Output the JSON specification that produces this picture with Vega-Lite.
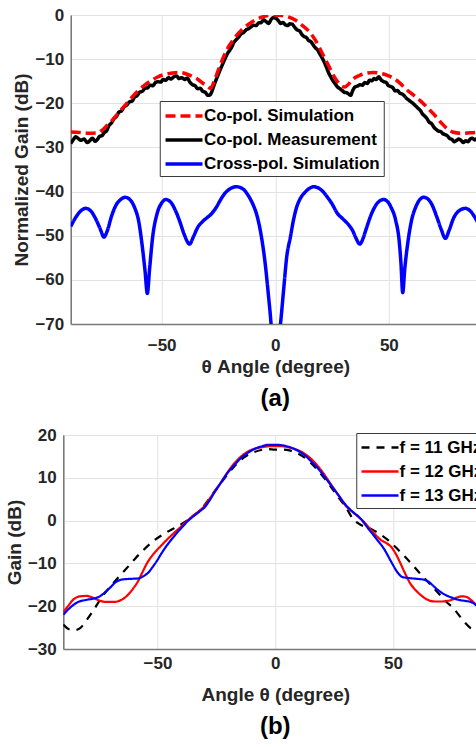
{
  "$schema": "https://vega.github.io/schema/vega-lite/v6.json",
  "background": "white",
  "padding": {"left": 4, "top": 5, "right": 0, "bottom": 0},
  "spacing": 13,
  "center": true,
  "resolve": {
    "scale": {"color": "independent", "strokeDash": "independent"},
    "legend": {"color": "independent", "strokeDash": "independent"}
  },
  "config": {
    "font": "Liberation Sans",
    "view": {"stroke": "#9a9a9a", "strokeWidth": 1},
    "axis": {
      "labelFont": "Liberation Sans", "labelFontWeight": "bold", "labelFontSize": 17, "labelColor": "#262626",
      "titleFont": "Liberation Sans", "titleFontWeight": "bold", "titleFontSize": 19, "titleColor": "#262626",
      "domainColor": "#7a7a7a", "domainWidth": 1.5, "gridColor": "#e2e2e2", "gridWidth": 1,
      "ticks": false, "labelPadding": 7, "titlePadding": 3
    },
    "legend": {
      "orient": "none", "title": null,
      "labelFont": "Liberation Sans", "labelFontWeight": "bold", "labelFontSize": 17, "labelColor": "#000000",
      "labelLimit": 400,
      "fillColor": "white", "strokeColor": "#3a3a3a", "padding": 4,
      "symbolType": "M-2,0H2", "symbolSize": 342, "symbolOffset": 9.25, "labelOffset": 9, "rowPadding": 5
    },
    "title": {"font": "Liberation Sans", "fontWeight": "bold", "fontSize": 24, "color": "#000000", "frame": "group"}
  },
  "datasets": {
    "a": [
      {"theta": -90, "gain": -29.1, "series": "Co-pol. Measurement"},
      {"theta": -88.8, "gain": -28.2, "series": "Co-pol. Measurement"},
      {"theta": -87.8, "gain": -27.6, "series": "Co-pol. Measurement"},
      {"theta": -86.6, "gain": -28.0, "series": "Co-pol. Measurement"},
      {"theta": -85.6, "gain": -28.4, "series": "Co-pol. Measurement"},
      {"theta": -84.2, "gain": -28.1, "series": "Co-pol. Measurement"},
      {"theta": -82.7, "gain": -28.9, "series": "Co-pol. Measurement"},
      {"theta": -81.5, "gain": -28.4, "series": "Co-pol. Measurement"},
      {"theta": -80.5, "gain": -27.9, "series": "Co-pol. Measurement"},
      {"theta": -79.3, "gain": -28.6, "series": "Co-pol. Measurement"},
      {"theta": -78.3, "gain": -28.2, "series": "Co-pol. Measurement"},
      {"theta": -77.3, "gain": -27.5, "series": "Co-pol. Measurement"},
      {"theta": -76.2, "gain": -27.3, "series": "Co-pol. Measurement"},
      {"theta": -75.2, "gain": -26.6, "series": "Co-pol. Measurement"},
      {"theta": -74.2, "gain": -26.2, "series": "Co-pol. Measurement"},
      {"theta": -73.1, "gain": -25.0, "series": "Co-pol. Measurement"},
      {"theta": -72.0, "gain": -24.4, "series": "Co-pol. Measurement"},
      {"theta": -71.0, "gain": -23.5, "series": "Co-pol. Measurement"},
      {"theta": -69.9, "gain": -23.0, "series": "Co-pol. Measurement"},
      {"theta": -68.8, "gain": -22.0, "series": "Co-pol. Measurement"},
      {"theta": -67.6, "gain": -21.7, "series": "Co-pol. Measurement"},
      {"theta": -66.5, "gain": -20.8, "series": "Co-pol. Measurement"},
      {"theta": -65.3, "gain": -20.4, "series": "Co-pol. Measurement"},
      {"theta": -64.2, "gain": -19.7, "series": "Co-pol. Measurement"},
      {"theta": -63.0, "gain": -19.5, "series": "Co-pol. Measurement"},
      {"theta": -61.9, "gain": -18.6, "series": "Co-pol. Measurement"},
      {"theta": -60.8, "gain": -18.3, "series": "Co-pol. Measurement"},
      {"theta": -59.7, "gain": -17.5, "series": "Co-pol. Measurement"},
      {"theta": -58.5, "gain": -17.3, "series": "Co-pol. Measurement"},
      {"theta": -57.3, "gain": -16.6, "series": "Co-pol. Measurement"},
      {"theta": -56.2, "gain": -16.5, "series": "Co-pol. Measurement"},
      {"theta": -55.0, "gain": -15.9, "series": "Co-pol. Measurement"},
      {"theta": -53.9, "gain": -16.0, "series": "Co-pol. Measurement"},
      {"theta": -52.7, "gain": -15.3, "series": "Co-pol. Measurement"},
      {"theta": -51.6, "gain": -15.1, "series": "Co-pol. Measurement"},
      {"theta": -50.4, "gain": -15.2, "series": "Co-pol. Measurement"},
      {"theta": -49.3, "gain": -14.6, "series": "Co-pol. Measurement"},
      {"theta": -48.2, "gain": -14.8, "series": "Co-pol. Measurement"},
      {"theta": -47.0, "gain": -14.2, "series": "Co-pol. Measurement"},
      {"theta": -45.9, "gain": -14.5, "series": "Co-pol. Measurement"},
      {"theta": -44.7, "gain": -14.0, "series": "Co-pol. Measurement"},
      {"theta": -43.5, "gain": -13.8, "series": "Co-pol. Measurement"},
      {"theta": -42.3, "gain": -14.4, "series": "Co-pol. Measurement"},
      {"theta": -41.1, "gain": -14.2, "series": "Co-pol. Measurement"},
      {"theta": -39.9, "gain": -14.6, "series": "Co-pol. Measurement"},
      {"theta": -38.7, "gain": -14.3, "series": "Co-pol. Measurement"},
      {"theta": -37.6, "gain": -15.2, "series": "Co-pol. Measurement"},
      {"theta": -36.4, "gain": -15.8, "series": "Co-pol. Measurement"},
      {"theta": -35.3, "gain": -16.0, "series": "Co-pol. Measurement"},
      {"theta": -34.2, "gain": -16.7, "series": "Co-pol. Measurement"},
      {"theta": -33.0, "gain": -16.6, "series": "Co-pol. Measurement"},
      {"theta": -31.9, "gain": -17.3, "series": "Co-pol. Measurement"},
      {"theta": -30.8, "gain": -17.5, "series": "Co-pol. Measurement"},
      {"theta": -29.6, "gain": -18.2, "series": "Co-pol. Measurement"},
      {"theta": -28.7, "gain": -18.1, "series": "Co-pol. Measurement"},
      {"theta": -27.8, "gain": -17.2, "series": "Co-pol. Measurement"},
      {"theta": -27.0, "gain": -16.0, "series": "Co-pol. Measurement"},
      {"theta": -26.2, "gain": -14.9, "series": "Co-pol. Measurement"},
      {"theta": -25.4, "gain": -13.9, "series": "Co-pol. Measurement"},
      {"theta": -24.4, "gain": -12.6, "series": "Co-pol. Measurement"},
      {"theta": -23.3, "gain": -11.3, "series": "Co-pol. Measurement"},
      {"theta": -22.2, "gain": -10.0, "series": "Co-pol. Measurement"},
      {"theta": -21.2, "gain": -8.9, "series": "Co-pol. Measurement"},
      {"theta": -20.2, "gain": -8.1, "series": "Co-pol. Measurement"},
      {"theta": -19.2, "gain": -7.3, "series": "Co-pol. Measurement"},
      {"theta": -18.2, "gain": -6.2, "series": "Co-pol. Measurement"},
      {"theta": -17.2, "gain": -5.6, "series": "Co-pol. Measurement"},
      {"theta": -16.1, "gain": -5.0, "series": "Co-pol. Measurement"},
      {"theta": -15.1, "gain": -4.3, "series": "Co-pol. Measurement"},
      {"theta": -14.0, "gain": -4.0, "series": "Co-pol. Measurement"},
      {"theta": -12.9, "gain": -3.4, "series": "Co-pol. Measurement"},
      {"theta": -11.8, "gain": -3.1, "series": "Co-pol. Measurement"},
      {"theta": -10.7, "gain": -2.7, "series": "Co-pol. Measurement"},
      {"theta": -9.6, "gain": -2.3, "series": "Co-pol. Measurement"},
      {"theta": -8.5, "gain": -2.4, "series": "Co-pol. Measurement"},
      {"theta": -7.3, "gain": -1.8, "series": "Co-pol. Measurement"},
      {"theta": -6.2, "gain": -1.7, "series": "Co-pol. Measurement"},
      {"theta": -5.1, "gain": -1.1, "series": "Co-pol. Measurement"},
      {"theta": -4.0, "gain": -1.5, "series": "Co-pol. Measurement"},
      {"theta": -2.9, "gain": -1.9, "series": "Co-pol. Measurement"},
      {"theta": -1.8, "gain": -1.0, "series": "Co-pol. Measurement"},
      {"theta": -0.7, "gain": -0.6, "series": "Co-pol. Measurement"},
      {"theta": 0.4, "gain": -0.8, "series": "Co-pol. Measurement"},
      {"theta": 1.4, "gain": -1.3, "series": "Co-pol. Measurement"},
      {"theta": 2.4, "gain": -1.9, "series": "Co-pol. Measurement"},
      {"theta": 3.4, "gain": -1.7, "series": "Co-pol. Measurement"},
      {"theta": 4.4, "gain": -2.2, "series": "Co-pol. Measurement"},
      {"theta": 5.4, "gain": -2.4, "series": "Co-pol. Measurement"},
      {"theta": 6.4, "gain": -2.0, "series": "Co-pol. Measurement"},
      {"theta": 7.5, "gain": -2.1, "series": "Co-pol. Measurement"},
      {"theta": 8.6, "gain": -2.8, "series": "Co-pol. Measurement"},
      {"theta": 9.7, "gain": -3.4, "series": "Co-pol. Measurement"},
      {"theta": 10.7, "gain": -3.6, "series": "Co-pol. Measurement"},
      {"theta": 11.7, "gain": -4.4, "series": "Co-pol. Measurement"},
      {"theta": 12.7, "gain": -4.9, "series": "Co-pol. Measurement"},
      {"theta": 13.7, "gain": -5.1, "series": "Co-pol. Measurement"},
      {"theta": 14.7, "gain": -5.8, "series": "Co-pol. Measurement"},
      {"theta": 15.6, "gain": -6.0, "series": "Co-pol. Measurement"},
      {"theta": 16.6, "gain": -6.7, "series": "Co-pol. Measurement"},
      {"theta": 17.6, "gain": -7.4, "series": "Co-pol. Measurement"},
      {"theta": 18.6, "gain": -7.9, "series": "Co-pol. Measurement"},
      {"theta": 19.6, "gain": -8.8, "series": "Co-pol. Measurement"},
      {"theta": 20.5, "gain": -9.6, "series": "Co-pol. Measurement"},
      {"theta": 21.5, "gain": -10.6, "series": "Co-pol. Measurement"},
      {"theta": 22.5, "gain": -11.8, "series": "Co-pol. Measurement"},
      {"theta": 23.4, "gain": -13.0, "series": "Co-pol. Measurement"},
      {"theta": 24.4, "gain": -14.0, "series": "Co-pol. Measurement"},
      {"theta": 25.4, "gain": -14.9, "series": "Co-pol. Measurement"},
      {"theta": 26.4, "gain": -15.6, "series": "Co-pol. Measurement"},
      {"theta": 27.4, "gain": -16.3, "series": "Co-pol. Measurement"},
      {"theta": 28.4, "gain": -16.7, "series": "Co-pol. Measurement"},
      {"theta": 29.4, "gain": -17.1, "series": "Co-pol. Measurement"},
      {"theta": 30.4, "gain": -17.5, "series": "Co-pol. Measurement"},
      {"theta": 31.4, "gain": -17.6, "series": "Co-pol. Measurement"},
      {"theta": 32.3, "gain": -17.9, "series": "Co-pol. Measurement"},
      {"theta": 33.2, "gain": -18.2, "series": "Co-pol. Measurement"},
      {"theta": 34.1, "gain": -17.1, "series": "Co-pol. Measurement"},
      {"theta": 35.1, "gain": -16.3, "series": "Co-pol. Measurement"},
      {"theta": 36.2, "gain": -16.1, "series": "Co-pol. Measurement"},
      {"theta": 37.3, "gain": -15.8, "series": "Co-pol. Measurement"},
      {"theta": 38.4, "gain": -15.9, "series": "Co-pol. Measurement"},
      {"theta": 39.4, "gain": -15.3, "series": "Co-pol. Measurement"},
      {"theta": 40.5, "gain": -15.5, "series": "Co-pol. Measurement"},
      {"theta": 41.5, "gain": -14.8, "series": "Co-pol. Measurement"},
      {"theta": 42.5, "gain": -14.9, "series": "Co-pol. Measurement"},
      {"theta": 43.5, "gain": -14.4, "series": "Co-pol. Measurement"},
      {"theta": 44.5, "gain": -14.6, "series": "Co-pol. Measurement"},
      {"theta": 45.5, "gain": -14.0, "series": "Co-pol. Measurement"},
      {"theta": 46.6, "gain": -14.7, "series": "Co-pol. Measurement"},
      {"theta": 47.7, "gain": -15.1, "series": "Co-pol. Measurement"},
      {"theta": 48.8, "gain": -15.3, "series": "Co-pol. Measurement"},
      {"theta": 49.8, "gain": -16.0, "series": "Co-pol. Measurement"},
      {"theta": 50.8, "gain": -16.2, "series": "Co-pol. Measurement"},
      {"theta": 51.8, "gain": -16.5, "series": "Co-pol. Measurement"},
      {"theta": 52.8, "gain": -17.2, "series": "Co-pol. Measurement"},
      {"theta": 53.8, "gain": -17.1, "series": "Co-pol. Measurement"},
      {"theta": 54.8, "gain": -17.7, "series": "Co-pol. Measurement"},
      {"theta": 55.8, "gain": -17.9, "series": "Co-pol. Measurement"},
      {"theta": 56.8, "gain": -18.3, "series": "Co-pol. Measurement"},
      {"theta": 57.8, "gain": -18.9, "series": "Co-pol. Measurement"},
      {"theta": 58.8, "gain": -19.3, "series": "Co-pol. Measurement"},
      {"theta": 59.8, "gain": -19.7, "series": "Co-pol. Measurement"},
      {"theta": 60.8, "gain": -20.1, "series": "Co-pol. Measurement"},
      {"theta": 61.8, "gain": -20.6, "series": "Co-pol. Measurement"},
      {"theta": 62.8, "gain": -21.1, "series": "Co-pol. Measurement"},
      {"theta": 63.8, "gain": -21.6, "series": "Co-pol. Measurement"},
      {"theta": 64.8, "gain": -22.4, "series": "Co-pol. Measurement"},
      {"theta": 65.8, "gain": -22.9, "series": "Co-pol. Measurement"},
      {"theta": 66.8, "gain": -23.5, "series": "Co-pol. Measurement"},
      {"theta": 67.8, "gain": -24.3, "series": "Co-pol. Measurement"},
      {"theta": 68.8, "gain": -24.6, "series": "Co-pol. Measurement"},
      {"theta": 69.8, "gain": -25.4, "series": "Co-pol. Measurement"},
      {"theta": 70.8, "gain": -25.9, "series": "Co-pol. Measurement"},
      {"theta": 71.8, "gain": -26.3, "series": "Co-pol. Measurement"},
      {"theta": 72.8, "gain": -26.4, "series": "Co-pol. Measurement"},
      {"theta": 73.8, "gain": -26.9, "series": "Co-pol. Measurement"},
      {"theta": 74.8, "gain": -27.1, "series": "Co-pol. Measurement"},
      {"theta": 75.8, "gain": -27.4, "series": "Co-pol. Measurement"},
      {"theta": 76.8, "gain": -28.0, "series": "Co-pol. Measurement"},
      {"theta": 77.8, "gain": -28.2, "series": "Co-pol. Measurement"},
      {"theta": 78.8, "gain": -28.7, "series": "Co-pol. Measurement"},
      {"theta": 79.8, "gain": -28.4, "series": "Co-pol. Measurement"},
      {"theta": 80.8, "gain": -28.1, "series": "Co-pol. Measurement"},
      {"theta": 81.8, "gain": -28.4, "series": "Co-pol. Measurement"},
      {"theta": 82.8, "gain": -28.9, "series": "Co-pol. Measurement"},
      {"theta": 83.8, "gain": -28.5, "series": "Co-pol. Measurement"},
      {"theta": 84.8, "gain": -28.7, "series": "Co-pol. Measurement"},
      {"theta": 85.8, "gain": -28.1, "series": "Co-pol. Measurement"},
      {"theta": 86.8, "gain": -27.9, "series": "Co-pol. Measurement"},
      {"theta": 87.8, "gain": -28.3, "series": "Co-pol. Measurement"},
      {"theta": 88.8, "gain": -28.0, "series": "Co-pol. Measurement"},
      {"theta": 90, "gain": -28.6, "series": "Co-pol. Measurement"},

      {"theta": -90, "gain": -26.5, "series": "Co-pol. Simulation"},
      {"theta": -86, "gain": -26.6, "series": "Co-pol. Simulation"},
      {"theta": -82, "gain": -26.8, "series": "Co-pol. Simulation"},
      {"theta": -78, "gain": -26.7, "series": "Co-pol. Simulation"},
      {"theta": -76, "gain": -26.0, "series": "Co-pol. Simulation"},
      {"theta": -74, "gain": -25.0, "series": "Co-pol. Simulation"},
      {"theta": -72, "gain": -24.0, "series": "Co-pol. Simulation"},
      {"theta": -70, "gain": -22.8, "series": "Co-pol. Simulation"},
      {"theta": -67, "gain": -21.0, "series": "Co-pol. Simulation"},
      {"theta": -64, "gain": -19.2, "series": "Co-pol. Simulation"},
      {"theta": -61, "gain": -17.5, "series": "Co-pol. Simulation"},
      {"theta": -58, "gain": -16.1, "series": "Co-pol. Simulation"},
      {"theta": -55, "gain": -15.0, "series": "Co-pol. Simulation"},
      {"theta": -52, "gain": -14.1, "series": "Co-pol. Simulation"},
      {"theta": -49, "gain": -13.5, "series": "Co-pol. Simulation"},
      {"theta": -46, "gain": -13.2, "series": "Co-pol. Simulation"},
      {"theta": -43, "gain": -13.0, "series": "Co-pol. Simulation"},
      {"theta": -40, "gain": -13.2, "series": "Co-pol. Simulation"},
      {"theta": -37, "gain": -13.8, "series": "Co-pol. Simulation"},
      {"theta": -34, "gain": -14.6, "series": "Co-pol. Simulation"},
      {"theta": -32, "gain": -15.4, "series": "Co-pol. Simulation"},
      {"theta": -30, "gain": -16.1, "series": "Co-pol. Simulation"},
      {"theta": -28.5, "gain": -16.6, "series": "Co-pol. Simulation"},
      {"theta": -27, "gain": -15.2, "series": "Co-pol. Simulation"},
      {"theta": -25, "gain": -12.4, "series": "Co-pol. Simulation"},
      {"theta": -23, "gain": -9.8, "series": "Co-pol. Simulation"},
      {"theta": -21, "gain": -7.6, "series": "Co-pol. Simulation"},
      {"theta": -19, "gain": -6.0, "series": "Co-pol. Simulation"},
      {"theta": -17, "gain": -4.6, "series": "Co-pol. Simulation"},
      {"theta": -15, "gain": -3.5, "series": "Co-pol. Simulation"},
      {"theta": -12, "gain": -2.2, "series": "Co-pol. Simulation"},
      {"theta": -9, "gain": -1.2, "series": "Co-pol. Simulation"},
      {"theta": -6, "gain": -0.5, "series": "Co-pol. Simulation"},
      {"theta": -3, "gain": -0.1, "series": "Co-pol. Simulation"},
      {"theta": 0, "gain": 0, "series": "Co-pol. Simulation"},
      {"theta": 3, "gain": -0.1, "series": "Co-pol. Simulation"},
      {"theta": 6, "gain": -0.5, "series": "Co-pol. Simulation"},
      {"theta": 9, "gain": -1.2, "series": "Co-pol. Simulation"},
      {"theta": 12, "gain": -2.4, "series": "Co-pol. Simulation"},
      {"theta": 15, "gain": -3.8, "series": "Co-pol. Simulation"},
      {"theta": 18, "gain": -6.0, "series": "Co-pol. Simulation"},
      {"theta": 21, "gain": -9.0, "series": "Co-pol. Simulation"},
      {"theta": 24, "gain": -12.0, "series": "Co-pol. Simulation"},
      {"theta": 26, "gain": -14.0, "series": "Co-pol. Simulation"},
      {"theta": 28, "gain": -15.5, "series": "Co-pol. Simulation"},
      {"theta": 30.5, "gain": -16.3, "series": "Co-pol. Simulation"},
      {"theta": 32, "gain": -15.8, "series": "Co-pol. Simulation"},
      {"theta": 34, "gain": -14.6, "series": "Co-pol. Simulation"},
      {"theta": 37, "gain": -13.7, "series": "Co-pol. Simulation"},
      {"theta": 40, "gain": -13.2, "series": "Co-pol. Simulation"},
      {"theta": 43, "gain": -13.0, "series": "Co-pol. Simulation"},
      {"theta": 46, "gain": -13.2, "series": "Co-pol. Simulation"},
      {"theta": 49, "gain": -13.6, "series": "Co-pol. Simulation"},
      {"theta": 52, "gain": -14.3, "series": "Co-pol. Simulation"},
      {"theta": 55, "gain": -15.5, "series": "Co-pol. Simulation"},
      {"theta": 58, "gain": -17.0, "series": "Co-pol. Simulation"},
      {"theta": 61, "gain": -18.2, "series": "Co-pol. Simulation"},
      {"theta": 64, "gain": -19.5, "series": "Co-pol. Simulation"},
      {"theta": 67, "gain": -21.0, "series": "Co-pol. Simulation"},
      {"theta": 70, "gain": -22.6, "series": "Co-pol. Simulation"},
      {"theta": 73, "gain": -24.4, "series": "Co-pol. Simulation"},
      {"theta": 76, "gain": -25.9, "series": "Co-pol. Simulation"},
      {"theta": 78, "gain": -26.5, "series": "Co-pol. Simulation"},
      {"theta": 82, "gain": -26.8, "series": "Co-pol. Simulation"},
      {"theta": 86, "gain": -26.7, "series": "Co-pol. Simulation"},
      {"theta": 90, "gain": -26.5, "series": "Co-pol. Simulation"},

      {"theta": -90, "gain": -47.9, "series": "Cross-pol. Simulation"},
      {"theta": -88, "gain": -46.0, "series": "Cross-pol. Simulation"},
      {"theta": -86, "gain": -44.6, "series": "Cross-pol. Simulation"},
      {"theta": -83.4, "gain": -43.8, "series": "Cross-pol. Simulation"},
      {"theta": -81, "gain": -44.5, "series": "Cross-pol. Simulation"},
      {"theta": -79, "gain": -46.2, "series": "Cross-pol. Simulation"},
      {"theta": -77, "gain": -48.5, "series": "Cross-pol. Simulation"},
      {"theta": -75.4, "gain": -50.3, "series": "Cross-pol. Simulation"},
      {"theta": -74, "gain": -49.0, "series": "Cross-pol. Simulation"},
      {"theta": -72, "gain": -45.5, "series": "Cross-pol. Simulation"},
      {"theta": -70, "gain": -43.0, "series": "Cross-pol. Simulation"},
      {"theta": -68, "gain": -41.8, "series": "Cross-pol. Simulation"},
      {"theta": -66, "gain": -41.3, "series": "Cross-pol. Simulation"},
      {"theta": -64, "gain": -41.8, "series": "Cross-pol. Simulation"},
      {"theta": -62, "gain": -43.5, "series": "Cross-pol. Simulation"},
      {"theta": -60, "gain": -47.0, "series": "Cross-pol. Simulation"},
      {"theta": -58.5, "gain": -52.5, "series": "Cross-pol. Simulation"},
      {"theta": -57.3, "gain": -58.0, "series": "Cross-pol. Simulation"},
      {"theta": -56.3, "gain": -63.1, "series": "Cross-pol. Simulation"},
      {"theta": -55.3, "gain": -57.5, "series": "Cross-pol. Simulation"},
      {"theta": -54, "gain": -50.5, "series": "Cross-pol. Simulation"},
      {"theta": -52, "gain": -45.0, "series": "Cross-pol. Simulation"},
      {"theta": -50, "gain": -42.6, "series": "Cross-pol. Simulation"},
      {"theta": -48.2, "gain": -41.8, "series": "Cross-pol. Simulation"},
      {"theta": -46, "gain": -42.4, "series": "Cross-pol. Simulation"},
      {"theta": -44, "gain": -44.2, "series": "Cross-pol. Simulation"},
      {"theta": -42, "gain": -46.8, "series": "Cross-pol. Simulation"},
      {"theta": -40, "gain": -49.8, "series": "Cross-pol. Simulation"},
      {"theta": -37.7, "gain": -51.9, "series": "Cross-pol. Simulation"},
      {"theta": -36, "gain": -50.2, "series": "Cross-pol. Simulation"},
      {"theta": -34, "gain": -48.0, "series": "Cross-pol. Simulation"},
      {"theta": -32, "gain": -46.8, "series": "Cross-pol. Simulation"},
      {"theta": -30, "gain": -45.9, "series": "Cross-pol. Simulation"},
      {"theta": -28, "gain": -45.0, "series": "Cross-pol. Simulation"},
      {"theta": -26, "gain": -43.6, "series": "Cross-pol. Simulation"},
      {"theta": -24, "gain": -41.8, "series": "Cross-pol. Simulation"},
      {"theta": -22, "gain": -40.3, "series": "Cross-pol. Simulation"},
      {"theta": -20, "gain": -39.4, "series": "Cross-pol. Simulation"},
      {"theta": -17.1, "gain": -38.9, "series": "Cross-pol. Simulation"},
      {"theta": -14, "gain": -39.5, "series": "Cross-pol. Simulation"},
      {"theta": -12, "gain": -40.8, "series": "Cross-pol. Simulation"},
      {"theta": -10, "gain": -42.7, "series": "Cross-pol. Simulation"},
      {"theta": -8, "gain": -45.5, "series": "Cross-pol. Simulation"},
      {"theta": -6, "gain": -50.5, "series": "Cross-pol. Simulation"},
      {"theta": -4.5, "gain": -56.0, "series": "Cross-pol. Simulation"},
      {"theta": -3, "gain": -63.5, "series": "Cross-pol. Simulation"},
      {"theta": -2, "gain": -69.0, "series": "Cross-pol. Simulation"},
      {"theta": -1.2, "gain": -75.0, "series": "Cross-pol. Simulation"},
      {"theta": 0, "gain": -90.0, "series": "Cross-pol. Simulation"},
      {"theta": 1.2, "gain": -75.0, "series": "Cross-pol. Simulation"},
      {"theta": 2.3, "gain": -70.0, "series": "Cross-pol. Simulation"},
      {"theta": 3.8, "gain": -61.6, "series": "Cross-pol. Simulation"},
      {"theta": 5, "gain": -55.0, "series": "Cross-pol. Simulation"},
      {"theta": 6.7, "gain": -50.2, "series": "Cross-pol. Simulation"},
      {"theta": 8, "gain": -46.5, "series": "Cross-pol. Simulation"},
      {"theta": 9.5, "gain": -43.4, "series": "Cross-pol. Simulation"},
      {"theta": 11, "gain": -41.6, "series": "Cross-pol. Simulation"},
      {"theta": 13, "gain": -40.2, "series": "Cross-pol. Simulation"},
      {"theta": 15, "gain": -39.3, "series": "Cross-pol. Simulation"},
      {"theta": 17, "gain": -38.9, "series": "Cross-pol. Simulation"},
      {"theta": 19, "gain": -39.2, "series": "Cross-pol. Simulation"},
      {"theta": 21, "gain": -40.0, "series": "Cross-pol. Simulation"},
      {"theta": 23, "gain": -41.3, "series": "Cross-pol. Simulation"},
      {"theta": 25, "gain": -42.8, "series": "Cross-pol. Simulation"},
      {"theta": 27.3, "gain": -44.9, "series": "Cross-pol. Simulation"},
      {"theta": 30, "gain": -46.3, "series": "Cross-pol. Simulation"},
      {"theta": 32.4, "gain": -47.6, "series": "Cross-pol. Simulation"},
      {"theta": 34, "gain": -48.8, "series": "Cross-pol. Simulation"},
      {"theta": 35.5, "gain": -50.5, "series": "Cross-pol. Simulation"},
      {"theta": 37.2, "gain": -51.9, "series": "Cross-pol. Simulation"},
      {"theta": 38.5, "gain": -50.8, "series": "Cross-pol. Simulation"},
      {"theta": 40, "gain": -48.5, "series": "Cross-pol. Simulation"},
      {"theta": 42, "gain": -45.5, "series": "Cross-pol. Simulation"},
      {"theta": 44, "gain": -43.3, "series": "Cross-pol. Simulation"},
      {"theta": 46, "gain": -42.1, "series": "Cross-pol. Simulation"},
      {"theta": 47.7, "gain": -41.8, "series": "Cross-pol. Simulation"},
      {"theta": 49.5, "gain": -42.3, "series": "Cross-pol. Simulation"},
      {"theta": 51, "gain": -43.6, "series": "Cross-pol. Simulation"},
      {"theta": 53, "gain": -46.5, "series": "Cross-pol. Simulation"},
      {"theta": 54.5, "gain": -51.0, "series": "Cross-pol. Simulation"},
      {"theta": 55.3, "gain": -56.0, "series": "Cross-pol. Simulation"},
      {"theta": 56.1, "gain": -62.9, "series": "Cross-pol. Simulation"},
      {"theta": 57, "gain": -57.5, "series": "Cross-pol. Simulation"},
      {"theta": 58.5, "gain": -51.0, "series": "Cross-pol. Simulation"},
      {"theta": 60, "gain": -46.5, "series": "Cross-pol. Simulation"},
      {"theta": 62, "gain": -43.3, "series": "Cross-pol. Simulation"},
      {"theta": 63.5, "gain": -41.9, "series": "Cross-pol. Simulation"},
      {"theta": 65.3, "gain": -41.3, "series": "Cross-pol. Simulation"},
      {"theta": 67, "gain": -41.6, "series": "Cross-pol. Simulation"},
      {"theta": 69, "gain": -43.0, "series": "Cross-pol. Simulation"},
      {"theta": 71, "gain": -45.6, "series": "Cross-pol. Simulation"},
      {"theta": 73, "gain": -48.5, "series": "Cross-pol. Simulation"},
      {"theta": 74.9, "gain": -50.6, "series": "Cross-pol. Simulation"},
      {"theta": 76.5, "gain": -48.8, "series": "Cross-pol. Simulation"},
      {"theta": 78.5, "gain": -46.0, "series": "Cross-pol. Simulation"},
      {"theta": 81, "gain": -44.3, "series": "Cross-pol. Simulation"},
      {"theta": 83.7, "gain": -43.8, "series": "Cross-pol. Simulation"},
      {"theta": 86, "gain": -44.5, "series": "Cross-pol. Simulation"},
      {"theta": 88.5, "gain": -46.4, "series": "Cross-pol. Simulation"},
      {"theta": 90, "gain": -47.9, "series": "Cross-pol. Simulation"}
    ],
    "b": [
      {"theta": -90, "gain": -24.3, "freq": "f = 11 GHz"},
      {"theta": -87, "gain": -25.5, "freq": "f = 11 GHz"},
      {"theta": -85, "gain": -25.6, "freq": "f = 11 GHz"},
      {"theta": -83, "gain": -25.2, "freq": "f = 11 GHz"},
      {"theta": -80, "gain": -23.2, "freq": "f = 11 GHz"},
      {"theta": -77, "gain": -20.8, "freq": "f = 11 GHz"},
      {"theta": -73.5, "gain": -17.8, "freq": "f = 11 GHz"},
      {"theta": -70, "gain": -15.4, "freq": "f = 11 GHz"},
      {"theta": -66.5, "gain": -13.2, "freq": "f = 11 GHz"},
      {"theta": -63, "gain": -11.1, "freq": "f = 11 GHz"},
      {"theta": -59.5, "gain": -8.9, "freq": "f = 11 GHz"},
      {"theta": -56, "gain": -6.9, "freq": "f = 11 GHz"},
      {"theta": -52, "gain": -4.9, "freq": "f = 11 GHz"},
      {"theta": -48.7, "gain": -3.6, "freq": "f = 11 GHz"},
      {"theta": -45, "gain": -2.4, "freq": "f = 11 GHz"},
      {"theta": -41.6, "gain": -1.4, "freq": "f = 11 GHz"},
      {"theta": -38, "gain": -0.2, "freq": "f = 11 GHz"},
      {"theta": -35, "gain": 1.0, "freq": "f = 11 GHz"},
      {"theta": -31.7, "gain": 2.5, "freq": "f = 11 GHz"},
      {"theta": -29.5, "gain": 4.0, "freq": "f = 11 GHz"},
      {"theta": -27.4, "gain": 5.6, "freq": "f = 11 GHz"},
      {"theta": -25, "gain": 7.4, "freq": "f = 11 GHz"},
      {"theta": -23, "gain": 8.8, "freq": "f = 11 GHz"},
      {"theta": -20, "gain": 11.0, "freq": "f = 11 GHz"},
      {"theta": -17.5, "gain": 12.6, "freq": "f = 11 GHz"},
      {"theta": -15, "gain": 14.0, "freq": "f = 11 GHz"},
      {"theta": -12, "gain": 15.2, "freq": "f = 11 GHz"},
      {"theta": -9, "gain": 16.0, "freq": "f = 11 GHz"},
      {"theta": -6, "gain": 16.5, "freq": "f = 11 GHz"},
      {"theta": -3, "gain": 16.7, "freq": "f = 11 GHz"},
      {"theta": 0, "gain": 16.6, "freq": "f = 11 GHz"},
      {"theta": 3, "gain": 16.6, "freq": "f = 11 GHz"},
      {"theta": 6, "gain": 16.4, "freq": "f = 11 GHz"},
      {"theta": 9, "gain": 15.8, "freq": "f = 11 GHz"},
      {"theta": 12, "gain": 14.9, "freq": "f = 11 GHz"},
      {"theta": 15, "gain": 13.5, "freq": "f = 11 GHz"},
      {"theta": 18, "gain": 11.8, "freq": "f = 11 GHz"},
      {"theta": 21, "gain": 9.8, "freq": "f = 11 GHz"},
      {"theta": 24, "gain": 7.6, "freq": "f = 11 GHz"},
      {"theta": 27, "gain": 5.3, "freq": "f = 11 GHz"},
      {"theta": 30, "gain": 3.1, "freq": "f = 11 GHz"},
      {"theta": 33, "gain": 0.4, "freq": "f = 11 GHz"},
      {"theta": 36, "gain": -0.9, "freq": "f = 11 GHz"},
      {"theta": 40, "gain": -1.8, "freq": "f = 11 GHz"},
      {"theta": 44, "gain": -3.0, "freq": "f = 11 GHz"},
      {"theta": 48, "gain": -4.6, "freq": "f = 11 GHz"},
      {"theta": 52, "gain": -6.7, "freq": "f = 11 GHz"},
      {"theta": 55, "gain": -8.4, "freq": "f = 11 GHz"},
      {"theta": 58.5, "gain": -10.5, "freq": "f = 11 GHz"},
      {"theta": 62, "gain": -12.7, "freq": "f = 11 GHz"},
      {"theta": 66, "gain": -15.0, "freq": "f = 11 GHz"},
      {"theta": 69, "gain": -16.8, "freq": "f = 11 GHz"},
      {"theta": 72.5, "gain": -18.9, "freq": "f = 11 GHz"},
      {"theta": 76, "gain": -20.7, "freq": "f = 11 GHz"},
      {"theta": 79, "gain": -22.8, "freq": "f = 11 GHz"},
      {"theta": 81.5, "gain": -24.4, "freq": "f = 11 GHz"},
      {"theta": 84, "gain": -25.4, "freq": "f = 11 GHz"},
      {"theta": 87, "gain": -25.5, "freq": "f = 11 GHz"},
      {"theta": 90, "gain": -24.8, "freq": "f = 11 GHz"},

      {"theta": -90, "gain": -21.4, "freq": "f = 12 GHz"},
      {"theta": -88, "gain": -20.0, "freq": "f = 12 GHz"},
      {"theta": -86, "gain": -18.6, "freq": "f = 12 GHz"},
      {"theta": -83, "gain": -17.7, "freq": "f = 12 GHz"},
      {"theta": -80, "gain": -17.6, "freq": "f = 12 GHz"},
      {"theta": -77.5, "gain": -18.0, "freq": "f = 12 GHz"},
      {"theta": -75, "gain": -18.6, "freq": "f = 12 GHz"},
      {"theta": -72, "gain": -19.0, "freq": "f = 12 GHz"},
      {"theta": -68.5, "gain": -19.0, "freq": "f = 12 GHz"},
      {"theta": -66, "gain": -18.7, "freq": "f = 12 GHz"},
      {"theta": -63, "gain": -17.6, "freq": "f = 12 GHz"},
      {"theta": -60.5, "gain": -16.0, "freq": "f = 12 GHz"},
      {"theta": -58.5, "gain": -14.4, "freq": "f = 12 GHz"},
      {"theta": -56.5, "gain": -12.2, "freq": "f = 12 GHz"},
      {"theta": -54.5, "gain": -10.0, "freq": "f = 12 GHz"},
      {"theta": -52, "gain": -8.0, "freq": "f = 12 GHz"},
      {"theta": -48.7, "gain": -6.0, "freq": "f = 12 GHz"},
      {"theta": -45.5, "gain": -4.2, "freq": "f = 12 GHz"},
      {"theta": -43, "gain": -2.9, "freq": "f = 12 GHz"},
      {"theta": -40, "gain": -1.4, "freq": "f = 12 GHz"},
      {"theta": -37.3, "gain": 0.0, "freq": "f = 12 GHz"},
      {"theta": -35, "gain": 1.1, "freq": "f = 12 GHz"},
      {"theta": -32, "gain": 2.4, "freq": "f = 12 GHz"},
      {"theta": -30, "gain": 3.4, "freq": "f = 12 GHz"},
      {"theta": -28, "gain": 5.0, "freq": "f = 12 GHz"},
      {"theta": -26, "gain": 6.6, "freq": "f = 12 GHz"},
      {"theta": -23, "gain": 9.0, "freq": "f = 12 GHz"},
      {"theta": -20, "gain": 11.5, "freq": "f = 12 GHz"},
      {"theta": -17, "gain": 13.6, "freq": "f = 12 GHz"},
      {"theta": -14, "gain": 15.2, "freq": "f = 12 GHz"},
      {"theta": -11, "gain": 16.3, "freq": "f = 12 GHz"},
      {"theta": -8, "gain": 16.9, "freq": "f = 12 GHz"},
      {"theta": -5, "gain": 17.2, "freq": "f = 12 GHz"},
      {"theta": -2, "gain": 17.4, "freq": "f = 12 GHz"},
      {"theta": 0, "gain": 17.4, "freq": "f = 12 GHz"},
      {"theta": 2, "gain": 17.4, "freq": "f = 12 GHz"},
      {"theta": 5, "gain": 17.2, "freq": "f = 12 GHz"},
      {"theta": 8, "gain": 16.8, "freq": "f = 12 GHz"},
      {"theta": 11, "gain": 16.1, "freq": "f = 12 GHz"},
      {"theta": 14, "gain": 15.0, "freq": "f = 12 GHz"},
      {"theta": 17, "gain": 13.4, "freq": "f = 12 GHz"},
      {"theta": 20, "gain": 11.4, "freq": "f = 12 GHz"},
      {"theta": 23, "gain": 9.0, "freq": "f = 12 GHz"},
      {"theta": 26, "gain": 6.6, "freq": "f = 12 GHz"},
      {"theta": 28, "gain": 5.0, "freq": "f = 12 GHz"},
      {"theta": 30, "gain": 3.4, "freq": "f = 12 GHz"},
      {"theta": 32, "gain": 2.4, "freq": "f = 12 GHz"},
      {"theta": 35, "gain": 1.0, "freq": "f = 12 GHz"},
      {"theta": 37.5, "gain": -0.2, "freq": "f = 12 GHz"},
      {"theta": 39.4, "gain": -1.4, "freq": "f = 12 GHz"},
      {"theta": 42, "gain": -3.0, "freq": "f = 12 GHz"},
      {"theta": 45, "gain": -4.6, "freq": "f = 12 GHz"},
      {"theta": 47, "gain": -5.2, "freq": "f = 12 GHz"},
      {"theta": 49.3, "gain": -6.2, "freq": "f = 12 GHz"},
      {"theta": 51, "gain": -7.6, "freq": "f = 12 GHz"},
      {"theta": 53, "gain": -9.8, "freq": "f = 12 GHz"},
      {"theta": 55, "gain": -12.2, "freq": "f = 12 GHz"},
      {"theta": 57, "gain": -14.4, "freq": "f = 12 GHz"},
      {"theta": 59, "gain": -15.9, "freq": "f = 12 GHz"},
      {"theta": 61, "gain": -17.0, "freq": "f = 12 GHz"},
      {"theta": 64, "gain": -18.3, "freq": "f = 12 GHz"},
      {"theta": 67.7, "gain": -18.9, "freq": "f = 12 GHz"},
      {"theta": 71, "gain": -18.9, "freq": "f = 12 GHz"},
      {"theta": 74.9, "gain": -18.5, "freq": "f = 12 GHz"},
      {"theta": 77, "gain": -18.0, "freq": "f = 12 GHz"},
      {"theta": 79.1, "gain": -17.7, "freq": "f = 12 GHz"},
      {"theta": 81, "gain": -17.8, "freq": "f = 12 GHz"},
      {"theta": 83, "gain": -18.5, "freq": "f = 12 GHz"},
      {"theta": 85.9, "gain": -20.0, "freq": "f = 12 GHz"},
      {"theta": 88, "gain": -21.0, "freq": "f = 12 GHz"},
      {"theta": 90, "gain": -21.6, "freq": "f = 12 GHz"},

      {"theta": -90, "gain": -22.0, "freq": "f = 13 GHz"},
      {"theta": -87, "gain": -20.3, "freq": "f = 13 GHz"},
      {"theta": -84, "gain": -19.1, "freq": "f = 13 GHz"},
      {"theta": -80, "gain": -18.5, "freq": "f = 13 GHz"},
      {"theta": -77, "gain": -18.2, "freq": "f = 13 GHz"},
      {"theta": -74.5, "gain": -17.7, "freq": "f = 13 GHz"},
      {"theta": -72, "gain": -16.6, "freq": "f = 13 GHz"},
      {"theta": -70, "gain": -15.6, "freq": "f = 13 GHz"},
      {"theta": -68, "gain": -14.5, "freq": "f = 13 GHz"},
      {"theta": -66, "gain": -13.9, "freq": "f = 13 GHz"},
      {"theta": -64, "gain": -13.7, "freq": "f = 13 GHz"},
      {"theta": -61, "gain": -13.6, "freq": "f = 13 GHz"},
      {"theta": -58, "gain": -13.5, "freq": "f = 13 GHz"},
      {"theta": -56, "gain": -13.0, "freq": "f = 13 GHz"},
      {"theta": -54, "gain": -12.2, "freq": "f = 13 GHz"},
      {"theta": -52, "gain": -10.8, "freq": "f = 13 GHz"},
      {"theta": -50, "gain": -9.2, "freq": "f = 13 GHz"},
      {"theta": -48, "gain": -7.4, "freq": "f = 13 GHz"},
      {"theta": -46, "gain": -5.8, "freq": "f = 13 GHz"},
      {"theta": -43, "gain": -3.7, "freq": "f = 13 GHz"},
      {"theta": -40, "gain": -1.8, "freq": "f = 13 GHz"},
      {"theta": -37.3, "gain": -0.2, "freq": "f = 13 GHz"},
      {"theta": -35, "gain": 0.9, "freq": "f = 13 GHz"},
      {"theta": -32, "gain": 2.2, "freq": "f = 13 GHz"},
      {"theta": -30, "gain": 3.1, "freq": "f = 13 GHz"},
      {"theta": -28, "gain": 4.6, "freq": "f = 13 GHz"},
      {"theta": -26, "gain": 6.4, "freq": "f = 13 GHz"},
      {"theta": -23, "gain": 8.9, "freq": "f = 13 GHz"},
      {"theta": -20.3, "gain": 11.1, "freq": "f = 13 GHz"},
      {"theta": -17, "gain": 13.2, "freq": "f = 13 GHz"},
      {"theta": -14.6, "gain": 14.6, "freq": "f = 13 GHz"},
      {"theta": -12, "gain": 15.7, "freq": "f = 13 GHz"},
      {"theta": -9, "gain": 16.7, "freq": "f = 13 GHz"},
      {"theta": -6, "gain": 17.3, "freq": "f = 13 GHz"},
      {"theta": -3, "gain": 17.7, "freq": "f = 13 GHz"},
      {"theta": 0, "gain": 17.7, "freq": "f = 13 GHz"},
      {"theta": 3, "gain": 17.6, "freq": "f = 13 GHz"},
      {"theta": 6, "gain": 17.2, "freq": "f = 13 GHz"},
      {"theta": 9, "gain": 16.5, "freq": "f = 13 GHz"},
      {"theta": 12, "gain": 15.5, "freq": "f = 13 GHz"},
      {"theta": 15, "gain": 14.0, "freq": "f = 13 GHz"},
      {"theta": 18, "gain": 12.3, "freq": "f = 13 GHz"},
      {"theta": 21, "gain": 10.2, "freq": "f = 13 GHz"},
      {"theta": 24, "gain": 8.0, "freq": "f = 13 GHz"},
      {"theta": 27, "gain": 5.8, "freq": "f = 13 GHz"},
      {"theta": 30, "gain": 3.6, "freq": "f = 13 GHz"},
      {"theta": 33, "gain": 2.0, "freq": "f = 13 GHz"},
      {"theta": 36, "gain": 0.6, "freq": "f = 13 GHz"},
      {"theta": 39.4, "gain": -1.8, "freq": "f = 13 GHz"},
      {"theta": 43, "gain": -4.3, "freq": "f = 13 GHz"},
      {"theta": 46.4, "gain": -6.8, "freq": "f = 13 GHz"},
      {"theta": 49, "gain": -9.4, "freq": "f = 13 GHz"},
      {"theta": 52.2, "gain": -12.3, "freq": "f = 13 GHz"},
      {"theta": 54, "gain": -13.2, "freq": "f = 13 GHz"},
      {"theta": 56.4, "gain": -13.4, "freq": "f = 13 GHz"},
      {"theta": 60, "gain": -13.6, "freq": "f = 13 GHz"},
      {"theta": 63, "gain": -13.8, "freq": "f = 13 GHz"},
      {"theta": 64.9, "gain": -14.2, "freq": "f = 13 GHz"},
      {"theta": 67, "gain": -15.2, "freq": "f = 13 GHz"},
      {"theta": 69, "gain": -16.2, "freq": "f = 13 GHz"},
      {"theta": 72, "gain": -17.3, "freq": "f = 13 GHz"},
      {"theta": 75, "gain": -18.0, "freq": "f = 13 GHz"},
      {"theta": 77.7, "gain": -18.5, "freq": "f = 13 GHz"},
      {"theta": 81, "gain": -18.8, "freq": "f = 13 GHz"},
      {"theta": 83, "gain": -19.0, "freq": "f = 13 GHz"},
      {"theta": 85.9, "gain": -20.0, "freq": "f = 13 GHz"},
      {"theta": 88, "gain": -20.9, "freq": "f = 13 GHz"},
      {"theta": 90, "gain": -21.6, "freq": "f = 13 GHz"}
    ]
  },
  "vconcat": [
    {
      "width": 409,
      "height": 309,
      "data": {"name": "a"},
      "title": {"text": "(a)", "orient": "bottom", "offset": 11},
      "mark": {"type": "line", "clip": true, "strokeWidth": 3.5, "interpolate": "monotone"},
      "encoding": {
        "x": {
          "field": "theta", "type": "quantitative",
          "scale": {"domain": [-90, 90], "nice": false, "zero": false},
          "axis": {"values": [-50, 0, 50], "title": "θ Angle (degree)", "grid": true, "labelPadding": 13, "titlePadding": 4}
        },
        "y": {
          "field": "gain", "type": "quantitative",
          "scale": {"domain": [-70, 0], "nice": false, "zero": false},
          "axis": {"values": [-70, -60, -50, -40, -30, -20, -10, 0], "title": "Normalized Gain (dB)", "grid": true}
        },
        "color": {
          "field": "series", "type": "nominal",
          "scale": {
            "domain": ["Co-pol. Simulation", "Co-pol. Measurement", "Cross-pol. Simulation"],
            "range": ["#ff0000", "#000000", "#0000ff"]
          },
          "legend": {"legendX": 89, "legendY": 86, "symbolStrokeWidth": 3.5}
        },
        "strokeDash": {
          "field": "series", "type": "nominal",
          "scale": {
            "domain": ["Co-pol. Simulation", "Co-pol. Measurement", "Cross-pol. Simulation"],
            "range": [[10, 5], [1, 0], [1, 0]]
          }
        }
      }
    },
    {
      "width": 424,
      "height": 214,
      "data": {"name": "b"},
      "title": {"text": "(b)", "orient": "bottom", "offset": 11},
      "mark": {"type": "line", "clip": true, "strokeWidth": 2.2, "interpolate": "monotone"},
      "encoding": {
        "x": {
          "field": "theta", "type": "quantitative",
          "scale": {"domain": [-90, 90], "nice": false, "zero": false},
          "axis": {"values": [-50, 0, 50], "title": "Angle θ (degree)", "grid": true, "labelPadding": 6, "titlePadding": 14}
        },
        "y": {
          "field": "gain", "type": "quantitative",
          "scale": {"domain": [-30, 20], "nice": false, "zero": false},
          "axis": {"values": [-30, -20, -10, 0, 10, 20], "title": "Gain (dB)", "grid": true}
        },
        "color": {
          "field": "freq", "type": "nominal",
          "scale": {
            "domain": ["f = 11 GHz", "f = 12 GHz", "f = 13 GHz"],
            "range": ["#000000", "#ff0000", "#0000ff"]
          },
          "legend": {"legendX": 293, "legendY": -2, "symbolStrokeWidth": 2.5}
        },
        "strokeDash": {
          "field": "freq", "type": "nominal",
          "scale": {
            "domain": ["f = 11 GHz", "f = 12 GHz", "f = 13 GHz"],
            "range": [[8, 7], [1, 0], [1, 0]]
          }
        }
      }
    }
  ]
}
